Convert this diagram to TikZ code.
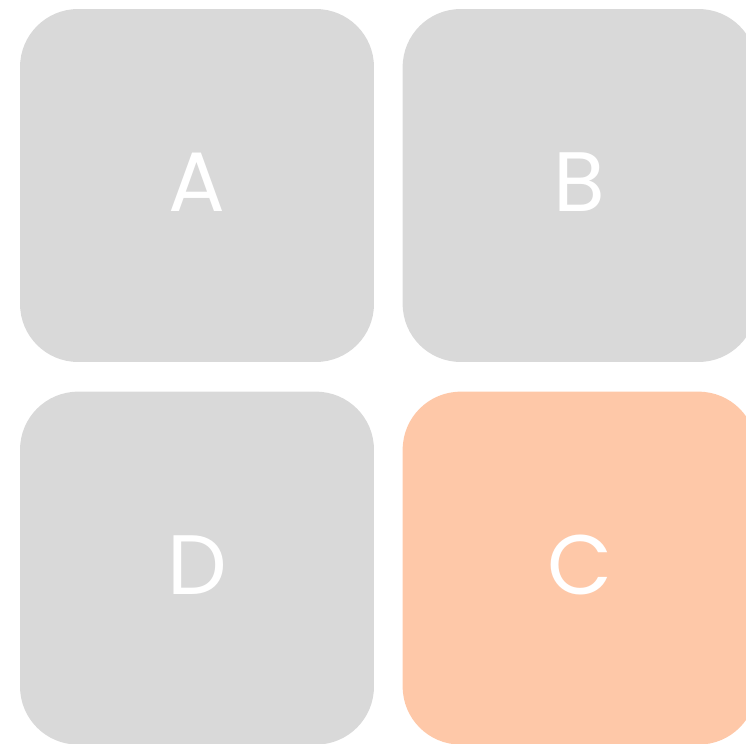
\documentclass[tikz,border=0pt]{standalone}
\usepackage{fontspec}
\setmainfont{Poppins}
\usetikzlibrary{positioning}

\definecolor{tilegray}{HTML}{D9D9D9}
\definecolor{tileorange}{HTML}{FEC8A8}

\tikzset{
  tile/.style={fill=tilegray, draw=none, rounded corners=1.16cm,
    minimum width=7.08cm, minimum height=7.06cm, inner sep=0pt,
    text height=1.06cm, text depth=0pt,
    text=white, font=\fontsize{48}{58}\selectfont},
  hot/.style={tile, fill=tileorange}
}

\begin{document}
\begin{tikzpicture}[x=0.02cm, y=-0.02cm]
  % Frame
  \clip (0,0) rectangle (746,743);
  % Tiles
  \node[tile] (tA) at (197,185.5) {A};
  \node[tile, right=0.56cm of tA] (tB) {B};
  \node[tile, below=0.58cm of tA] (tD) {D};
  \node[hot, below=0.58cm of tB] (tC) {C};
\end{tikzpicture}
\end{document}
